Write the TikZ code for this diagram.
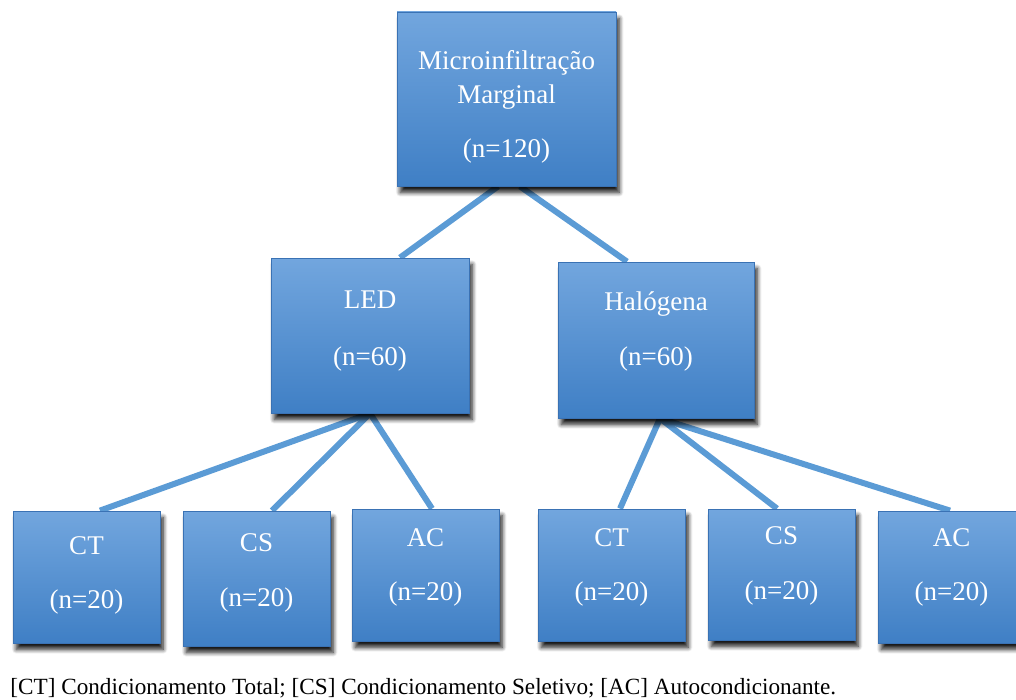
\documentclass[tikz,border=0pt]{standalone}
\usepackage{fontspec}
\setmainfont{Liberation Serif}
\usepackage{tikz}
\usetikzlibrary{shadows.blur,backgrounds}
\definecolor{BoxTop}{HTML}{72A6DE}
\definecolor{BoxBot}{HTML}{3F7FC5}
\definecolor{BoxEdge}{HTML}{3A72B4}
\definecolor{LinkBlue}{HTML}{5B9BD5}

\begin{document}
\begin{tikzpicture}[x=0.5pt,y=-0.5pt,
  box/.style={draw=BoxEdge,line width=0.4pt,top color=BoxTop,bottom color=BoxBot,
    text=white,align=center,inner sep=0pt,text depth=4pt,
    font=\fontsize{13.5}{17}\selectfont,
    blur shadow={shadow xshift=1.6pt,shadow yshift=-3.2pt,shadow blur radius=2.2pt,
      shadow blur steps=8,shadow opacity=90}},
  link/.style={LinkBlue,line width=3pt}]
  \useasboundingbox (0,0) rectangle (1016,700);
  % top level
  \node[box,minimum width=109.5pt,minimum height=87pt,text height=63pt] (micro) at (506.5,99)
    {Microinfiltração\\Marginal\\[10pt](n=120)};
  % second level
  \node[box,minimum width=99pt,minimum height=77.5pt,text height=33.5pt] (led) at (370,335.5)
    {LED\\[11.5pt](n=60)};
  \node[box,minimum width=98pt,minimum height=78pt,text height=29pt] (halo) at (656,340)
    {Halógena\\[10.5pt](n=60)};
  % third level
  \node[box,minimum width=73.5pt,minimum height=66pt,text height=35pt] (ledct) at (86.5,577)
    {CT\\[10pt](n=20)};
  \node[box,minimum width=73.5pt,minimum height=67.5pt,text height=31.5pt] (ledcs) at (256.5,578.5)
    {CS\\[10.5pt](n=20)};
  \node[box,minimum width=73.5pt,minimum height=66pt,text height=29pt] (ledac) at (425.5,575)
    {AC\\[10pt](n=20)};
  \node[box,minimum width=73.5pt,minimum height=66pt,text height=29pt] (haloct) at (611.5,575)
    {CT\\[10pt](n=20)};
  \node[box,minimum width=73.5pt,minimum height=65.5pt,text height=28.5pt] (halocs) at (781.5,574.5)
    {CS\\[10.5pt](n=20)};
  \node[box,minimum width=73.5pt,minimum height=66pt,text height=27pt] (haloac) at (951.5,577)
    {AC\\[10pt](n=20)};
  % links
  \begin{pgfonlayer}{background}
    \draw[link] ([xshift=-4.25pt]micro.south) -- ([xshift=15pt]led.north);
    \draw[link] ([xshift=6.75pt]micro.south) -- ([xshift=-14.5pt]halo.north);
    \draw[link] (led.south) -- ([xshift=6.75pt]ledct.north);
    \draw[link] (led.south) -- ([xshift=7.75pt]ledcs.north);
    \draw[link] (led.south) -- ([xshift=3.25pt]ledac.north);
    \draw[link] ([xshift=2pt]halo.south) -- ([xshift=4.25pt]haloct.north);
    \draw[link] ([xshift=2pt]halo.south) -- ([xshift=-2.25pt]halocs.north);
    \draw[link] ([xshift=2pt]halo.south) -- ([xshift=-0.75pt]haloac.north);
  \end{pgfonlayer}
  % legend
  \node[anchor=west,inner sep=0pt,font=\fontsize{11.6}{13}\selectfont] (legend) at (10,688)
    {[CT] Condicionamento Total; [CS] Condicionamento Seletivo; [AC] Autocondicionante.};
\end{tikzpicture}
\end{document}
